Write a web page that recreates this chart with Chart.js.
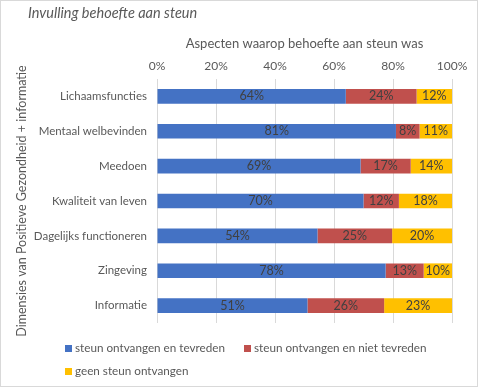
<!DOCTYPE html>
<html>
<head>
<meta charset="utf-8">
<script src="https://cdn.jsdelivr.net/npm/chart.js@4.4.0/dist/chart.umd.min.js"></script>
<style>
  body { margin: 0; background: #fff; }
  #wrap { position: relative; width: 476px; height: 385px; border: 1px solid #d9d9d9; font-family: Lato, 'Open Sans', sans-serif; }
  #title { position: absolute; left: 27px; top: 3px; font-size: 14.5px; font-style: italic; color: #595959; }
  #chart { position: absolute; left: 0; top: 0; }
  .leg { position: absolute; font-size: 11.7px; color: #595959; white-space: nowrap; }
  .leg span { display: inline-block; width: 7px; height: 7px; margin-right: 3px; }
</style>
</head>
<body>
<div id="wrap">
  <canvas id="chart" width="476" height="385"></canvas>
  <div id="title">Invulling behoefte aan steun</div>
  <div class="leg" style="left:64px;top:339px"><span style="background:#4472C4"></span>steun ontvangen en tevreden</div>
  <div class="leg" style="left:243px;top:339px"><span style="background:#C0504D"></span>steun ontvangen en niet tevreden</div>
  <div class="leg" style="left:64px;top:362px"><span style="background:#FFC000"></span>geen steun ontvangen</div>
</div>
<script>
const categories = ['Lichaamsfuncties', 'Mentaal welbevinden', 'Meedoen', 'Kwaliteit van leven', 'Dagelijks functioneren', 'Zingeving', 'Informatie'];
const tevreden = [64, 81, 69, 70, 54.4, 77.5, 51];
const nietTevreden = [24, 8, 17, 12, 25.3, 12.9, 26];
const geenSteun = [12, 11, 14, 18, 20.3, 9.6, 23];
const xTicks = [0, 20, 40, 60, 80, 100];

const labelPlugin = {
    id: 'barLabels',
    afterDatasetsDraw(chart) {
        const ctx = chart.ctx;
        ctx.save();
        ctx.font = '12.5px Lato, sans-serif';
        ctx.fillStyle = '#404040';
        ctx.textAlign = 'center';
        ctx.textBaseline = 'middle';
        chart.data.datasets.forEach((ds, i) => {
            chart.getDatasetMeta(i).data.forEach((bar, j) => {
                const x = (bar.x + bar.base) / 2;
                ctx.fillText(Math.round(ds.data[j]) + '%', x, bar.y);
            });
        });
        ctx.restore();
    }
};

const mk = (label, data, color) => ({
    label: label,
    data: data,
    backgroundColor: color,
    barPercentage: 0.42,
    categoryPercentage: 1
});

new Chart(document.getElementById('chart'), {
    type: 'bar',
    data: {
        labels: categories,
        datasets: [
            mk('steun ontvangen en tevreden', tevreden, '#4472C4'),
            mk('steun ontvangen en niet tevreden', nietTevreden, '#C0504D'),
            mk('geen steun ontvangen', geenSteun, '#FFC000')
        ]
    },
    options: {
        indexAxis: 'y',
        responsive: false,
        animation: false,
        layout: { padding: { top: 35, bottom: 63, left: 13, right: 25 } },
        plugins: {
            legend: { display: false },
            tooltip: { enabled: false }
        },
        scales: {
            x: {
                position: 'top',
                stacked: true,
                min: 0,
                max: 100,
                afterBuildTicks: s => { s.ticks = xTicks.map(v => ({ value: v })); },
                ticks: { callback: v => v + '%', color: '#595959', font: { size: 12, family: 'Lato' }, padding: 6 },
                grid: { color: '#d9d9d9', drawTicks: false },
                border: { display: false },
                title: { display: true, text: 'Aspecten waarop behoefte aan steun was', color: '#595959', font: { size: 13, family: 'Lato' }, padding: { top: 0, bottom: 1 } }
            },
            y: {
                stacked: true,
                grid: { display: false, drawTicks: false },
                border: { display: false },
                ticks: { color: '#595959', font: { size: 11.5, family: 'Lato' }, padding: 10 },
                title: { display: true, text: 'Dimensies van Positieve Gezondheid + informatie', color: '#595959', font: { size: 12.5, family: 'Lato' }, padding: 0 },
                afterFit: s => { s.width = 143; }
            }
        }
    },
    plugins: [labelPlugin]
});
</script>
</body>
</html>
